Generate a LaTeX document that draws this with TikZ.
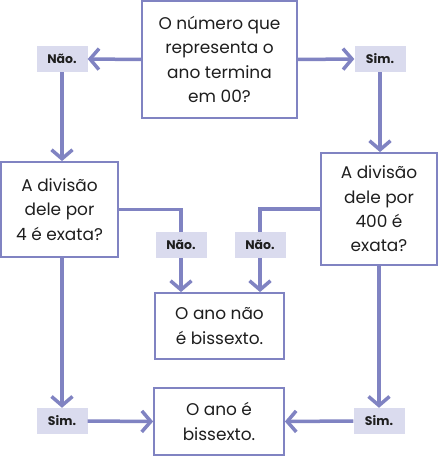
\documentclass[tikz,border=0pt]{standalone}
\usepackage{fontspec}
\setmainfont{Poppins}
\usetikzlibrary{arrows.meta, positioning}
\definecolor{flowline}{RGB}{128,131,194}
\definecolor{tagfill}{RGB}{218,219,238}
\definecolor{inktext}{RGB}{30,30,30}

\begin{document}
\begin{tikzpicture}[x=1bp, y=-1bp,
  box/.style={draw=flowline, line width=1.8bp, align=center, inner sep=0pt, text=inktext,
    font=\fontsize{17}{24.5}\selectfont},
  tag/.style={fill=tagfill, minimum width=51bp, minimum height=26bp, inner sep=0pt, text=inktext,
    font=\bfseries\fontsize{12.5}{14}\selectfont},
  link/.style={draw=flowline, line width=3.5bp},
  flow/.style={link, -{Straight Barb[length=9bp, width=21bp]}}]
\useasboundingbox (0,0) rectangle (439,456);

% questions
\node[box, minimum width=155bp, minimum height=117bp] (q00) at (219.5,59.5)
  {O número que\\representa o\\ano termina\\em 00?};
\node[box, minimum width=117bp, minimum height=95bp] (q4) at (59.5,209.5)
  {A divisão\\dele por\\4 é exata?};
\node[box, minimum width=116bp, minimum height=112bp] (q400) at (379,209)
  {A divisão\\dele por\\400 é\\exata?};

% answers
\node[box, minimum width=129bp, minimum height=66bp] (naobis) at (219.5,326)
  {O ano não\\é bissexto.};
\node[box, minimum width=130bp, minimum height=67bp] (bis) at (219,421.5)
  {O ano é\\bissexto.};

% tags
\node[tag] (nao1) at (62,59) {Não.};
\node[tag] (sim1) at (380,59) {Sim.};
\node[tag] (nao2) at (181,245) {Não.};
\node[tag] (nao3) at (260,245) {Não.};
\node[tag] (sim2) at (62,421) {Sim.};
\node[tag] (sim3) at (379,421) {Sim.};

% connectors
\draw[flow] (q00.west) -- (nao1.east);
\draw[flow] (q00.east) -- (sim1.west);
\draw[flow] (nao1.south) -- (nao1 |- q4.north);
\draw[flow] (sim1.south) -- (sim1 |- q400.north);
\draw[link] (q4.east) -| (nao2.north);
\draw[link] (q400.west) -| (nao3.north);
\draw[flow] (nao2.south) -- (nao2 |- naobis.north);
\draw[flow] (nao3.south) -- (nao3 |- naobis.north);
\draw[flow] (nao1 |- q4.south) -- (sim2.north);
\draw[flow] (sim3 |- q400.south) -- (sim3.north);
\draw[flow] (sim2.east) -- (bis.west);
\draw[flow] (sim3.west) -- (bis.east);
\end{tikzpicture}
\end{document}
